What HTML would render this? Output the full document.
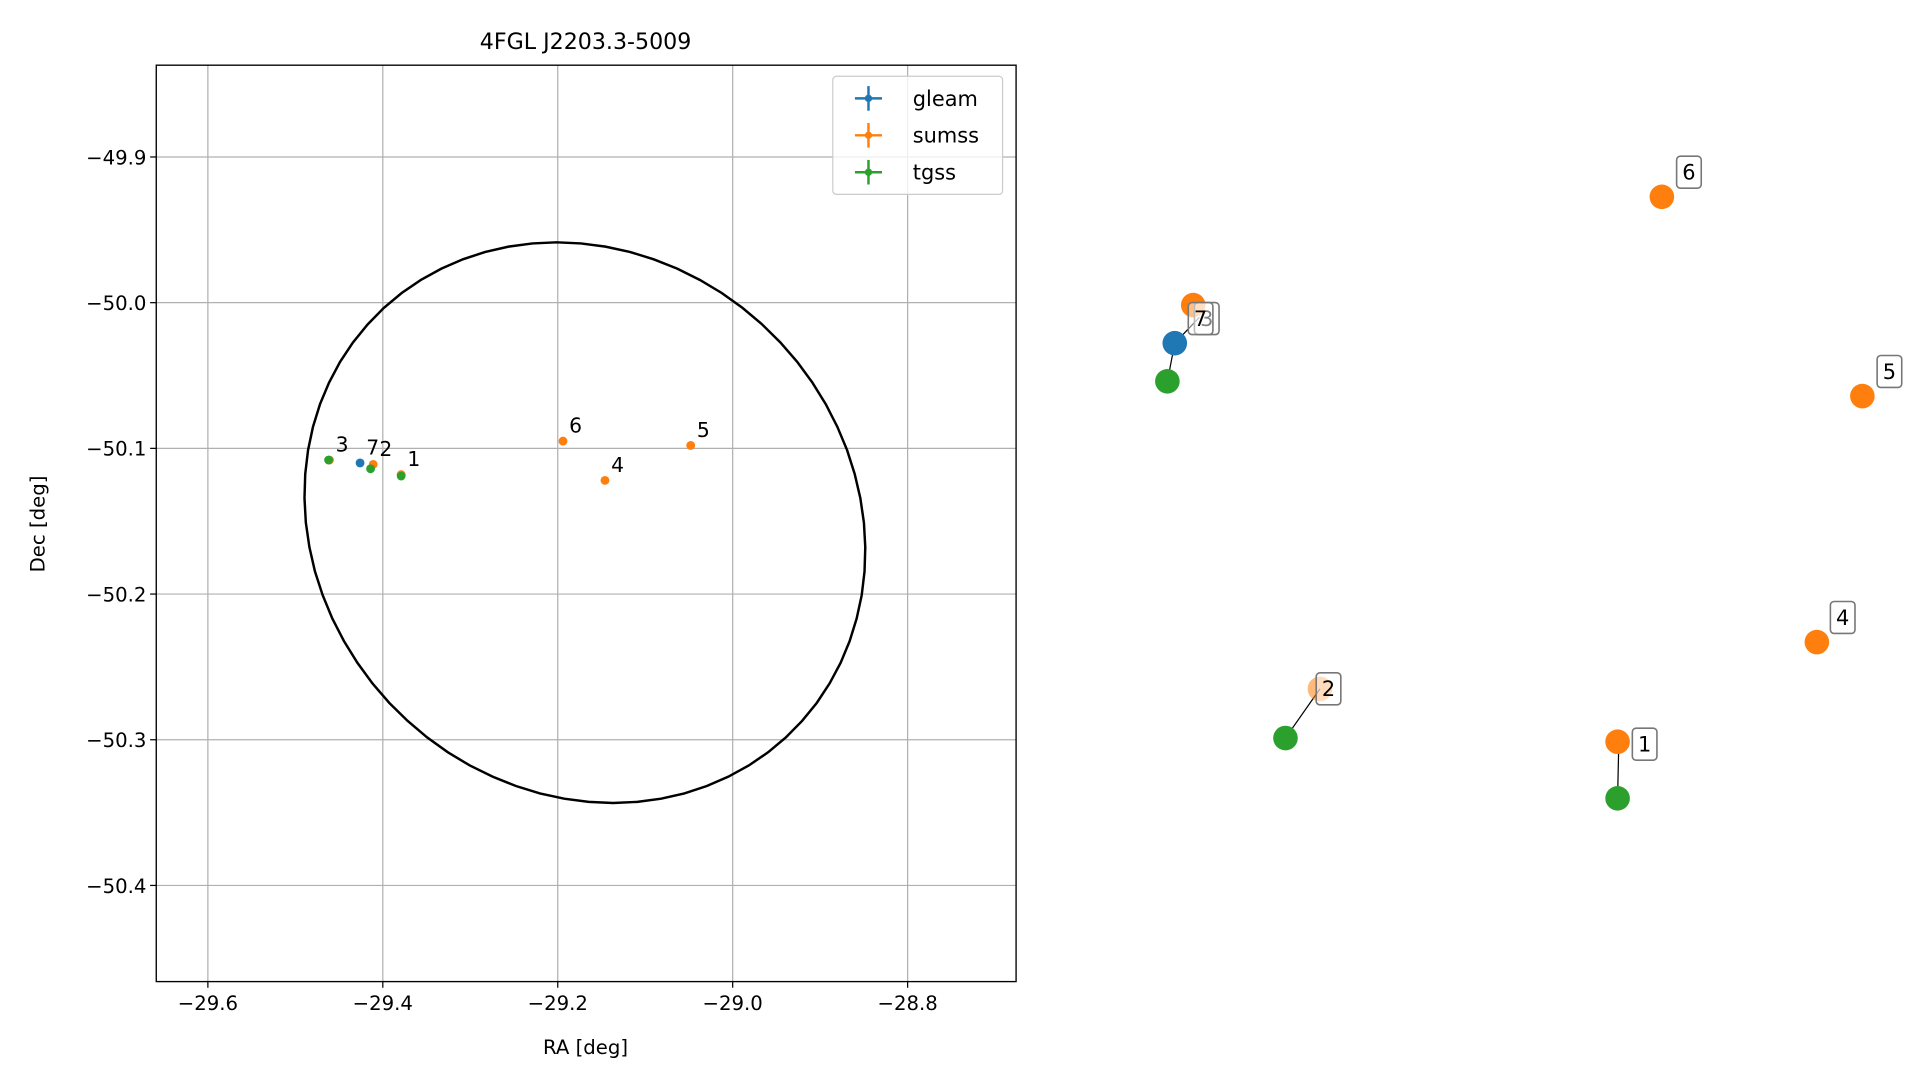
<!DOCTYPE html>
<html><head><meta charset="utf-8"><style>
html,body{margin:0;padding:0;background:#fff;}
svg{display:block;font-family:"DejaVu Sans","Liberation Sans",sans-serif;}
</style></head><body>
<svg id="chart" width="1919" height="1080" viewBox="0 0 1560 878" xmlns="http://www.w3.org/2000/svg">
<text x="476" y="40" font-size="18" text-anchor="middle">4FGL J2203.3-5009</text>
<g id="grid"></g>
<g id="ellipse"></g>
<g id="points"></g>
<rect x="127" y="53" width="699" height="745" fill="none" stroke="#000" stroke-width="1.1"/>
<g id="ticks"></g>
<text x="476" y="857" font-size="16" text-anchor="middle">RA [deg]</text>
<text x="36" y="426" font-size="16" text-anchor="middle" transform="rotate(-90 36 426)">Dec [deg]</text>
<g>
<rect x="677" y="62" width="138" height="96" rx="3" fill="#fff" fill-opacity="0.8" stroke="#ccc"/>
<g><line x1="695" x2="717" y1="80" y2="80" stroke="#1f77b4" stroke-width="2"/><line x1="706" x2="706" y1="70" y2="90" stroke="#1f77b4" stroke-width="2"/><circle cx="706" cy="80" r="3" fill="#1f77b4"/><text x="742" y="86" font-size="17">gleam</text></g>
<g><line x1="695" x2="717" y1="110" y2="110" stroke="#ff7f0e" stroke-width="2"/><line x1="706" x2="706" y1="100" y2="120" stroke="#ff7f0e" stroke-width="2"/><circle cx="706" cy="110" r="3" fill="#ff7f0e"/><text x="742" y="116" font-size="17">sumss</text></g>
<g><line x1="695" x2="717" y1="140" y2="140" stroke="#2ca02c" stroke-width="2"/><line x1="706" x2="706" y1="130" y2="150" stroke="#2ca02c" stroke-width="2"/><circle cx="706" cy="140" r="3" fill="#2ca02c"/><text x="742" y="146" font-size="17">tgss</text></g>
</g>
<g id="right"></g>
</svg>
<script>
const xTicks=[-29.6,-29.4,-29.2,-29.0,-28.8];
const yTicks=[-49.9,-50.0,-50.1,-50.2,-50.3,-50.4];
const sumssRA=[-29.379,-29.411,-29.461,-29.146,-29.048,-29.194];
const sumssDec=[-50.118,-50.111,-50.108,-50.122,-50.098,-50.095];
const sumssLabels=["1","2","3","4","5","6"];
const gleamRA=[-29.426];
const gleamDec=[-50.110];
const gleamLabels=["7"];
const tgssRA=[-29.379,-29.414,-29.462];
const tgssDec=[-50.119,-50.114,-50.108];
const ellipseCenter=[-29.169,-50.151];
const ellipseRadii=[0.319,0.1924];
const ellipseShear=-0.0323;
// right panel: arbitrary layout units
const rSumssX=[1315,1073,970,1477,1514,1351];
const rSumssY=[603,560,248,522,322,160];
const rGleamX=[955]; const rGleamY=[279];
const rTgssX=[1315,1045,949]; const rTgssY=[649,600,310];

const NS="http://www.w3.org/2000/svg";
const X0=127,X1=826,Y0=53,Y1=798;
const xmin=-29.659,xmax=-28.676,ymin=-50.466,ymax=-49.837;
const sx=v=>X0+(v-xmin)/(xmax-xmin)*(X1-X0);
const sy=v=>Y1-(v-ymin)/(ymax-ymin)*(Y1-Y0);
const fmt=v=>(v<0?"\u2212":"")+Math.abs(v).toFixed(1);
function mk(tag,attrs,parent){const e=document.createElementNS(NS,tag);for(const k in attrs)e.setAttribute(k,attrs[k]);parent.appendChild(e);return e;}
const grid=document.getElementById('grid'),ticks=document.getElementById('ticks');
xTicks.forEach(t=>{const x=sx(t);
 const g=mk('line',{x1:x,x2:x,y1:Y0,y2:Y1,stroke:'#b0b0b0','stroke-width':1},grid);
 
 
 const tk=mk('line',{x1:x,x2:x,y1:Y1,y2:Y1+5,stroke:'#000'},ticks);
 
 
 const tx=mk('text',{x:x,y:Y1+23,'font-size':16,'text-anchor':'middle'},ticks);tx.textContent=fmt(t);
 
 });
yTicks.forEach(t=>{const y=sy(t);
 const g=mk('line',{x1:X0,x2:X1,y1:y,y2:y,stroke:'#b0b0b0','stroke-width':1},grid);
 
 
 const tk=mk('line',{x1:X0-5,x2:X0,y1:y,y2:y,stroke:'#000'},ticks);
 
 
 const tx=mk('text',{x:X0-8,y:y+6,'font-size':16,'text-anchor':'end'},ticks);tx.textContent=fmt(t);
 
 });
let pts=[];for(let i=0;i<=72;i++){const a=i/72*2*Math.PI;
 const ra=ellipseCenter[0]+ellipseRadii[0]*Math.cos(a)+ellipseShear*Math.sin(a);
 const de=ellipseCenter[1]+ellipseRadii[1]*Math.sin(a);
 pts.push(sx(ra).toFixed(1)+","+sy(de).toFixed(1));}
const el=mk('polyline',{points:pts.join(' '),fill:'none',stroke:'#000','stroke-width':2},document.getElementById('ellipse'));


const P=document.getElementById('points');
function dots(ra,de,col,labels,name){ra.forEach((r,i)=>{
 const c=mk('circle',{cx:sx(r),cy:sy(de[i]),r:3.6,fill:col},P);
 
 
 if(labels){const t=mk('text',{x:sx(r)+5,y:sy(de[i])-7,'font-size':16.5},P);t.textContent=labels[i];
 
 }});}
dots(sumssRA,sumssDec,'#ff7f0e',sumssLabels,'sumss');
dots(gleamRA,gleamDec,'#1f77b4',gleamLabels,'gleam');
dots(tgssRA,tgssDec,'#2ca02c',null,'tgss');
const R=document.getElementById('right');
function line(x1,y1,x2,y2){const l=mk('line',{x1,y1,x2,y2,stroke:'#000','stroke-width':1},R);
 
 }
line(rTgssX[0],rTgssY[0],rSumssX[0]+1,rSumssY[0]);
line(rTgssX[1],rTgssY[1],rSumssX[1],rSumssY[1]);
line(rTgssX[2],rTgssY[2],rGleamX[0],rGleamY[0]);
line(rGleamX[0],rGleamY[0],rSumssX[2]+5,rSumssY[2]+10);
function big(xs,ys,col,name,op){xs.forEach((x,i)=>{const c=mk('circle',{cx:x,cy:ys[i],r:10,fill:col,'fill-opacity':op?op[i]:1},R);
 
 });}
big(rSumssX,rSumssY,'#ff7f0e','sumss',[1,0.55,1,1,1,1]);
big(rGleamX,rGleamY,'#1f77b4','gleam');
big(rTgssX,rTgssY,'#2ca02c','tgss');
function box(x,y,txt){const g=mk('g',{},R);
 
 
 mk('rect',{x:x-8,y:y-13,width:20,height:26,rx:3,fill:'#fff','fill-opacity':0.5,stroke:'#777','stroke-width':1.3},g);
 const t=mk('text',{x:x+2,y:y+6,'font-size':17,'text-anchor':'middle'},g);t.textContent=txt;}
[0,1,2,3,4,5].forEach(i=>{if(i===2)return;const dx=[20,5,9,19,20,20][i],dy=[2,0,11,-20,-20,-20][i];box(rSumssX[i]+dx,rSumssY[i]+dy,sumssLabels[i]);});
box(rSumssX[2]+9,rSumssY[2]+11,sumssLabels[2]);
box(rGleamX[0]+19,rGleamY[0]-20,gleamLabels[0]);
</script>
</body></html>
